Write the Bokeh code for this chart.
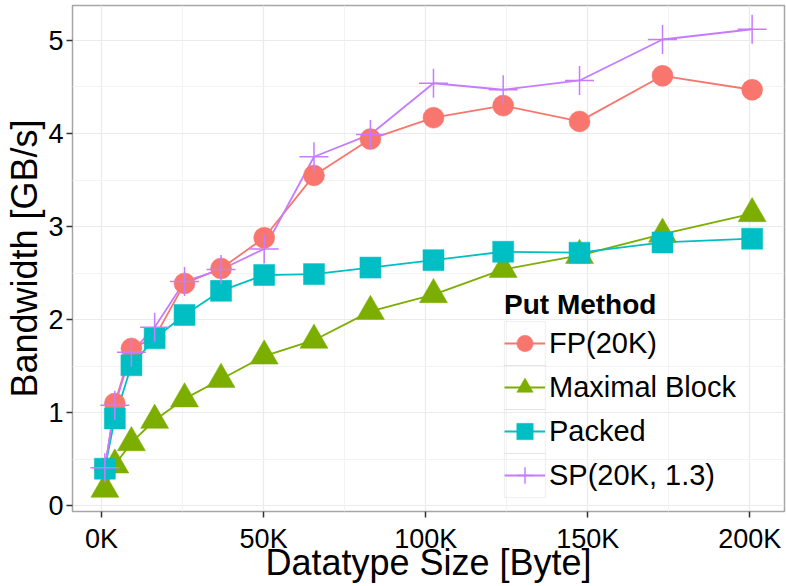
from bokeh.plotting import figure
from bokeh.models import FixedTicker, Legend, LegendItem, BoxAnnotation, Range1d
from bokeh.embed import file_html
from bokeh.resources import INLINE

# ---- data ----
sizes = [1024, 4096, 9216, 16384, 25600, 36864, 50176, 65536, 82944,
         102400, 123904, 147456, 173056, 200704]
fp = [0.40, 1.10, 1.69, 1.81, 2.39, 2.55, 2.88, 3.55, 3.94, 4.17, 4.30, 4.13, 4.62, 4.47]
maximal = [0.18, 0.44, 0.68, 0.92, 1.15, 1.36, 1.61, 1.78, 2.09, 2.27, 2.54, 2.69, 2.92, 3.14]
packed = [0.40, 0.94, 1.51, 1.80, 2.05, 2.31, 2.48, 2.49, 2.56, 2.64, 2.73, 2.72, 2.83, 2.87]
sp = [0.41, 1.08, 1.65, 1.92, 2.41, 2.54, 2.76, 3.75, 3.99, 4.54, 4.47, 4.57, 5.01, 5.12]

series_names = ["FP(20K)", "Maximal Block", "Packed", "SP(20K, 1.3)"]
series_values = [fp, maximal, packed, sp]
colors = ["#F8766D", "#7CAE00", "#00BFC4", "#C77CFF"]
markers = ["circle", "triangle", "square", "cross"]
marker_sizes = [21, 28, 21, 29]

x_ticks = [0, 50000, 100000, 150000, 200000]
x_tick_labels = ["0K", "50K", "100K", "150K", "200K"]
x_minor = [25000, 75000, 125000, 175000]
y_ticks = [0, 1, 2, 3, 4, 5]
y_minor = [0.5, 1.5, 2.5, 3.5, 4.5]

FONT = "Liberation Sans"
X0, X1 = -8960, 210688
Y0, Y1 = -0.06, 5.375

p = figure(width=786, height=586, output_backend="svg", toolbar_location=None,
           x_range=Range1d(X0, X1), y_range=Range1d(Y0, Y1),
           min_border_left=72, min_border_right=2, min_border_top=5,
           min_border_bottom=75)

p.background_fill_color = "white"
p.border_fill_color = "white"
p.outline_line_color = "#A6A6A6"
p.outline_line_width = 1.5

p.xaxis.ticker = FixedTicker(ticks=x_ticks, minor_ticks=x_minor)
p.yaxis.ticker = FixedTicker(ticks=y_ticks, minor_ticks=y_minor)
p.xaxis.major_label_overrides = {t: l for t, l in zip(x_ticks, x_tick_labels)}

for ax in (p.xaxis[0], p.yaxis[0]):
    ax.axis_line_color = None
    ax.major_tick_line_color = "#333333"
    ax.major_tick_line_width = 1.5
    ax.major_tick_out = 6
    ax.major_tick_in = 0
    ax.minor_tick_line_color = None
    ax.major_label_text_font = FONT
    ax.major_label_text_font_size = "27px"
    ax.major_label_text_color = "black"
    ax.axis_label_text_font = FONT
    ax.axis_label_text_font_size = "36px"
    ax.axis_label_text_font_style = "normal"
    ax.axis_label_text_color = "black"

p.xaxis.major_label_standoff = 6
p.yaxis.major_label_standoff = 3
p.xaxis.axis_label = "Datatype Size [Byte]"
p.yaxis.axis_label = "Bandwidth [GB/s]"
p.xaxis.axis_label_standoff = -15
p.yaxis.axis_label_standoff = 0

for g in (p.xgrid[0], p.ygrid[0]):
    g.grid_line_color = "#EBEBEB"
    g.grid_line_width = 1.2
    g.minor_grid_line_color = "#F3F3F3"
    g.minor_grid_line_width = 1.0

line_rs = []
for vals, c in zip(series_values, colors):
    line_rs.append(p.line(sizes, vals, line_color=c, line_width=1.8))

pt_rs = []
for vals, c, m, s in zip(series_values, colors, markers, marker_sizes):
    if m == "cross":
        pt_rs.append(p.scatter(sizes, vals, marker=m, size=s, line_color=c,
                               line_width=1.5))
    else:
        pt_rs.append(p.scatter(sizes, vals, marker=m, size=s, fill_color=c,
                               line_color=c, line_width=0.5))

# legend key frames (decoration), converted from pixel layout
FL, FR, FT, FB = 72, 784, 5, 511
def px_to_x(px):
    return X0 + (px - FL) / (FR - FL) * (X1 - X0)
def py_to_y(py):
    return Y1 - (py - FT) / (FB - FT) * (Y1 - Y0)

for i in range(4):
    top = 321 + i * 44
    p.add_layout(BoxAnnotation(left=px_to_x(504), right=px_to_x(545),
                               top=py_to_y(top), bottom=py_to_y(top + 44),
                               fill_alpha=0, line_color="#CCCCCC",
                               line_width=1.2, level="annotation"))

items = [LegendItem(label=n, renderers=[lr, pr])
         for n, lr, pr in zip(series_names, line_rs, pt_rs)]
legend = Legend(items=items, location=(432, 14), title="Put Method",
                title_text_font=FONT, title_text_font_size="28px",
                title_text_font_style="bold", title_text_color="black",
                title_standoff=0,
                label_text_font=FONT, label_text_font_size="29px",
                label_text_color="black",
                glyph_width=41, glyph_height=44, spacing=0,
                padding=0, margin=0, label_standoff=4,
                background_fill_alpha=0, border_line_alpha=0)
p.add_layout(legend)

open("out.html", "w").write(file_html(p, INLINE))
